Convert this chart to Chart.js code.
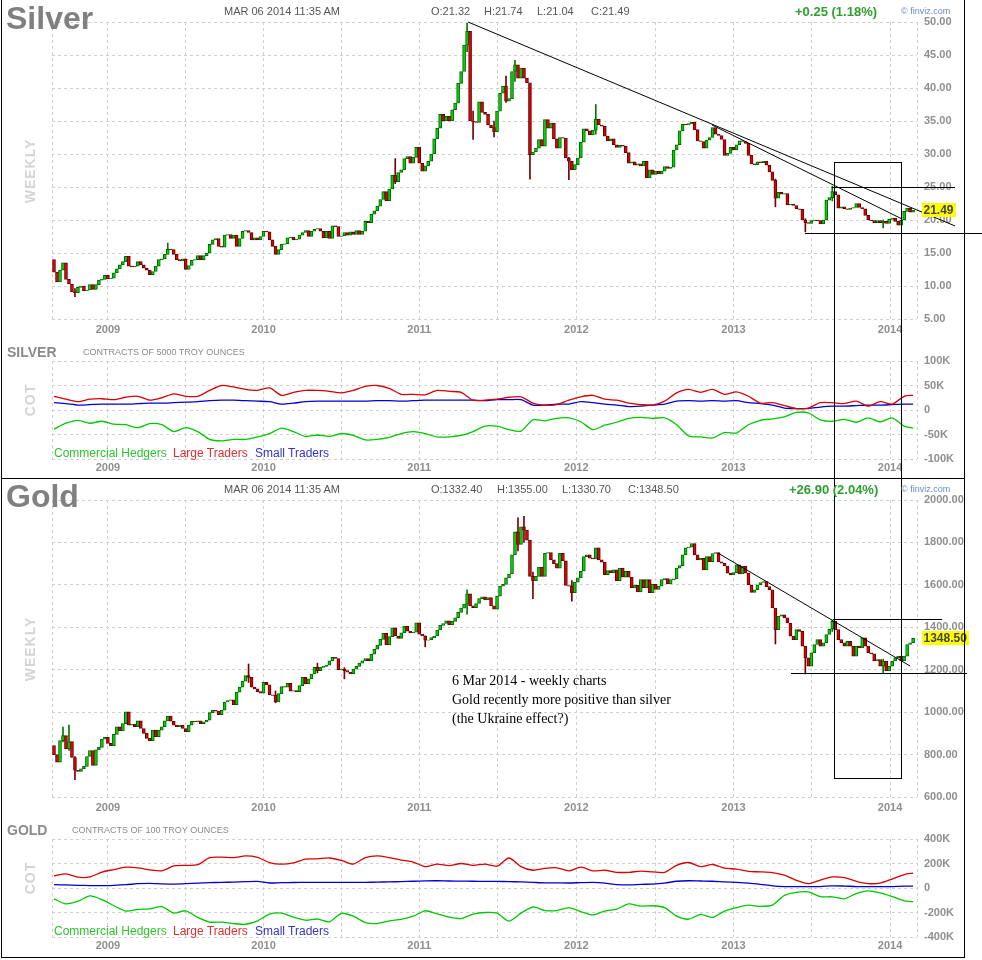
<!DOCTYPE html>
<html>
<head>
<meta charset="utf-8">
<script src="https://cdn.jsdelivr.net/npm/chart.js@4.4.1/dist/chart.umd.min.js"></script>
<style>
  body { margin: 0; background: #fff; }
  #wrap { position: relative; width: 982px; height: 960px; overflow: hidden; font-family: "Liberation Sans", Arial, sans-serif; }
  canvas { position: absolute; left: 0; }
  .t { position: absolute; white-space: nowrap; line-height: 13px; font-size: 11px; color: #555; }
  .big { position: absolute; font-weight: bold; font-size: 32px; line-height: 32px; color: #808080; }
  .chg { position: absolute; font-weight: bold; font-size: 13px; line-height: 15px; color: #2ea02e; white-space: nowrap; }
  .fv { position: absolute; font-size: 9px; line-height: 11px; color: #6a8cc0; white-space: nowrap; }
  .vert { position: absolute; width: 80px; height: 16px; line-height: 16px; text-align: center; font-weight: bold; font-size: 14px; letter-spacing: 1px; color: #d4d4d4; transform: rotate(-90deg); }
  .cot { position: absolute; font-weight: bold; font-size: 14px; line-height: 16px; color: #8a8a8a; }
  .sub { position: absolute; font-size: 9px; line-height: 11px; color: #8a8a8a; white-space: nowrap; }
  .lg { position: absolute; font-size: 12px; line-height: 14px; white-space: nowrap; }
  .rule { position: absolute; background: #000; }
  .note { position: absolute; left: 452px; top: 671px; font-family: "Liberation Serif", "Times New Roman", serif; font-size: 14px; line-height: 19px; color: #000; white-space: nowrap; }
</style>
</head>
<body>
<div id="wrap">
  <canvas id="silverMain" width="982" height="340" style="top:0"></canvas>
  <canvas id="silverCot" width="982" height="138" style="top:340px"></canvas>
  <canvas id="goldMain" width="982" height="340" style="top:478px"></canvas>
  <canvas id="goldCot" width="982" height="138" style="top:818px"></canvas>
  <canvas id="notes" width="982" height="960" style="top:0"></canvas>

  <div class="big" style="left:6px;top:2px">Silver</div>
  <div class="t" style="left:224px;top:5px">MAR 06 2014 11:35 AM</div>
  <div class="t" style="left:431px;top:5px">O:21.32</div>
  <div class="t" style="left:484px;top:5px">H:21.74</div>
  <div class="t" style="left:537px;top:5px">L:21.04</div>
  <div class="t" style="left:591px;top:5px">C:21.49</div>
  <div class="chg" style="left:795px;top:4px">+0.25 (1.18%)</div>
  <div class="fv" style="left:901px;top:6px">© finviz.com</div>
  <div class="vert" style="left:-10px;top:163px">WEEKLY</div>
  <div class="cot" style="left:7px;top:344px">SILVER</div>
  <div class="sub" style="left:83px;top:347px">CONTRACTS OF 5000 TROY OUNCES</div>
  <div class="vert" style="left:-10px;top:392px">COT</div>
  <div class="lg" style="left:54px;top:446px;color:#2ec42e">Commercial Hedgers</div>
  <div class="lg" style="left:173px;top:446px;color:#dd3030">Large Traders</div>
  <div class="lg" style="left:255px;top:446px;color:#3333cc">Small Traders</div>

  <div class="big" style="left:6px;top:480px">Gold</div>
  <div class="t" style="left:224px;top:483px">MAR 06 2014 11:35 AM</div>
  <div class="t" style="left:431px;top:483px">O:1332.40</div>
  <div class="t" style="left:497px;top:483px">H:1355.00</div>
  <div class="t" style="left:562px;top:483px">L:1330.70</div>
  <div class="t" style="left:628px;top:483px">C:1348.50</div>
  <div class="chg" style="left:789px;top:482px">+26.90 (2.04%)</div>
  <div class="fv" style="left:901px;top:484px">© finviz.com</div>
  <div class="vert" style="left:-10px;top:641px">WEEKLY</div>
  <div class="cot" style="left:7px;top:822px">GOLD</div>
  <div class="sub" style="left:72px;top:825px">CONTRACTS OF 100 TROY OUNCES</div>
  <div class="vert" style="left:-10px;top:870px">COT</div>
  <div class="lg" style="left:54px;top:924px;color:#2ec42e">Commercial Hedgers</div>
  <div class="lg" style="left:173px;top:924px;color:#dd3030">Large Traders</div>
  <div class="lg" style="left:255px;top:924px;color:#3333cc">Small Traders</div>

  <div class="note">6 Mar 2014 - weekly charts<br>Gold recently more positive than silver<br>(the Ukraine effect?)</div>

  <div class="rule" style="left:1px;top:0;width:1px;height:958px"></div>
  <div class="rule" style="left:964px;top:0;width:1px;height:958px"></div>
  <div class="rule" style="left:1px;top:478px;width:964px;height:1px"></div>
  <div class="rule" style="left:1px;top:957px;width:964px;height:1px"></div>
</div>

<script>
// weekly closes, first week = Sep 1 2008, last week = Mar 3 2014
const silverFirstOpen = 14.0;
const silverClose = [
  12.1, 10.6, 12.4, 13.5, 11.0, 10.3, 9.1, 9.0, 9.8, 10.0,
  9.3, 9.4, 10.2, 9.5, 10.2, 10.9, 11.0, 11.6, 11.1, 11.2,
  12.0, 12.6, 13.2, 13.7, 14.5, 13.0, 12.9, 13.0, 13.7, 13.2,
  12.7, 12.4, 11.7, 12.2, 13.0, 14.0, 14.1, 14.8, 15.6, 15.5,
  14.8, 14.0, 13.8, 14.1, 12.5, 13.1, 13.9, 14.0, 14.6, 14.0,
  14.6, 15.0, 16.3, 17.0, 17.2, 16.0, 15.9, 17.7, 17.8, 17.2,
  17.7, 16.0, 17.2, 18.3, 18.4, 18.1, 17.0, 17.3, 17.0, 17.5,
  18.3, 18.2, 17.0, 16.0, 14.8, 15.5, 16.3, 16.4, 17.3, 17.4,
  17.0, 17.1, 17.7, 18.1, 18.4, 17.5, 18.3, 18.6, 18.7, 18.3,
  17.3, 18.3, 17.2, 19.1, 19.0, 17.5, 17.6, 18.1, 17.7, 18.2,
  17.8, 18.4, 17.8, 18.3, 19.8, 19.6, 20.9, 21.4, 22.1, 23.1,
  24.3, 22.9, 24.7, 26.8, 25.8, 27.2, 27.6, 29.3, 29.6, 28.6,
  29.5, 31.0, 28.6, 27.4, 28.2, 28.9, 30.0, 32.3, 33.9, 36.0,
  35.0, 35.7, 35.0, 36.7, 37.7, 40.7, 42.5, 46.5, 48.6, 35.0,
  34.9, 34.8, 37.9, 36.3, 36.0, 34.4, 34.0, 33.4, 36.5, 39.2,
  40.3, 38.0, 38.4, 42.5, 43.5, 41.5, 43.0, 41.5, 40.8, 29.9,
  30.3, 30.9, 32.2, 31.2, 35.2, 33.9, 34.7, 32.3, 30.9, 32.5,
  32.4, 29.4, 28.9, 27.6, 28.4, 29.4, 31.8, 33.8, 33.5, 32.9,
  33.6, 35.3, 34.4, 34.2, 32.7, 32.0, 32.3, 31.4, 31.0, 31.3,
  31.2, 30.2, 28.6, 28.8, 28.3, 28.5, 28.2, 28.9, 26.4, 27.6,
  26.9, 27.4, 27.0, 27.4, 28.1, 27.8, 28.0, 30.6, 31.4, 33.5,
  34.5, 34.4, 34.6, 34.8, 33.7, 32.0, 31.9, 30.9, 32.1, 32.5,
  34.0, 33.0, 32.8, 32.2, 29.8, 30.1, 31.0, 30.6, 31.4, 32.0,
  31.9, 31.6, 29.8, 28.5, 28.4, 28.8, 28.7, 28.9, 28.3, 27.3,
  26.0, 23.3, 24.2, 23.9, 24.0, 22.3, 22.4, 22.2, 21.7, 21.6,
  20.0, 19.6, 19.5, 19.9, 20.0, 19.9, 19.4, 20.0, 23.0, 23.4,
  24.3, 23.8, 21.8, 22.0, 21.7, 21.6, 21.8, 21.9, 22.5, 21.9,
  21.7, 20.7, 20.0, 19.9, 19.6, 19.9, 19.6, 19.8, 19.5, 20.1,
  20.3, 19.8, 19.2, 20.0, 21.3, 21.8, 21.2, 21.49
];
// [week, low, high] for the longer visible wicks
const silverWicks = [
  [7, 8.4, 9.6], [38, 14.9, 16.5], [114, 25.5, 29.3], [138, 45.5, 49.8], [140, 32.2, 36.5],
  [147, 32.6, 35.0], [151, 37.8, 41.8], [154, 41.0, 44.2], [159, 26.2, 40.5], [172, 26.1, 29.5],
  [181, 33.0, 37.5], [241, 22.0, 26.2], [251, 18.2, 20.2], [260, 22.9, 25.1], [277, 18.8, 20.0]
];

const goldFirstOpen = 842;
const goldClose = [
  800, 764, 866, 889, 827, 861, 786, 726, 721, 733,
  744, 791, 819, 749, 822, 834, 873, 881, 853, 842,
  895, 931, 911, 946, 1001, 939, 943, 931, 959, 923,
  900, 876, 864, 915, 884, 915, 931, 959, 981, 957,
  939, 931, 939, 923, 908, 939, 957, 954, 959, 946,
  954, 962, 998, 1009, 1005, 988, 1009, 1048, 1055, 1058,
  1035, 1094, 1118, 1146, 1172, 1164, 1118, 1110, 1097, 1090,
  1141, 1129, 1082, 1079, 1048, 1087, 1121, 1118, 1136, 1099,
  1102, 1097, 1125, 1164, 1133, 1157, 1180, 1211, 1196, 1211,
  1216, 1222, 1242, 1258, 1253, 1200, 1203, 1196, 1188, 1180,
  1203, 1216, 1231, 1242, 1253, 1242, 1273, 1297, 1315, 1343,
  1371, 1317, 1356, 1398, 1359, 1348, 1374, 1405, 1382, 1374,
  1377, 1421, 1367, 1359, 1339, 1340, 1351, 1359, 1387, 1409,
  1418, 1430, 1412, 1428, 1445, 1470, 1490, 1509, 1558, 1501,
  1493, 1512, 1535, 1544, 1529, 1540, 1501, 1485, 1547, 1594,
  1602, 1633, 1651, 1741, 1850, 1791, 1873, 1858, 1811, 1640,
  1620, 1640, 1684, 1640, 1749, 1752, 1718, 1700, 1679, 1749,
  1713, 1597, 1594, 1563, 1613, 1633, 1664, 1733, 1741, 1726,
  1722, 1775, 1718, 1707, 1648, 1667, 1656, 1671, 1620, 1679,
  1636, 1664, 1636, 1586, 1599, 1567, 1625, 1586, 1625, 1563,
  1602, 1578, 1594, 1625, 1630, 1605, 1625, 1628, 1679, 1691,
  1741, 1775, 1778, 1795, 1741, 1717, 1725, 1670, 1733, 1709,
  1748, 1752, 1709, 1702, 1689, 1655, 1647, 1658, 1694, 1652,
  1689, 1655, 1600, 1564, 1577, 1600, 1611, 1616, 1592, 1577,
  1491, 1389, 1452, 1459, 1444, 1420, 1358, 1342, 1389, 1381,
  1311, 1256, 1217, 1280, 1319, 1342, 1311, 1327, 1366, 1392,
  1428, 1389, 1342, 1327, 1311, 1334, 1311, 1264, 1311, 1303,
  1350, 1311, 1280, 1275, 1241, 1248, 1217, 1241, 1194, 1217,
  1241, 1256, 1264, 1241, 1264, 1319, 1327, 1348.5
];
const goldWicks = [
  [3, 860, 930], [5, 820, 939], [7, 682, 790], [65, 1140, 1227], [74, 1044, 1100],
  [88, 1185, 1231], [97, 1157, 1210], [124, 1308, 1360], [138, 1462, 1577], [155, 1760, 1916],
  [157, 1800, 1923], [160, 1535, 1660], [173, 1523, 1620], [241, 1321, 1480], [251, 1180, 1280],
  [260, 1380, 1434], [277, 1182, 1250]
];

// COT net positions in thousands of contracts, one value every 4 weeks
const cotStep = 4;
const silverCommercial = [
  -39, -27, -21, -27, -23, -29, -30, -36, -28, -30, -44, -36, -44, -60, -63, -60, -60, -55, -48, -37,
  -44, -54, -51, -54, -48, -52, -61, -60, -56, -48, -44, -48, -55, -55, -52, -44, -33, -33, -40, -43,
  -20, -22, -17, -16, -24, -40, -31, -25, -17, -15, -17, -16, -30, -53, -55, -57, -46, -47, -30, -21,
  -18, -14, -5, -6, -20, -23, -19, -25, -16, -24, -16, -33, -37
];
const silverLarge = [
  28, 22, 17, 22, 23, 21, 26, 28, 20, 25, 33, 28, 28, 40, 50, 47, 42, 40, 45, 30,
  36, 40, 40, 38, 35, 40, 48, 50, 44, 32, 32, 31, 40, 38, 36, 20, 20, 22, 26, 27,
  14, 10, 11, 20, 27, 30, 22, 20, 14, 11, 10, 18, 35, 42, 36, 42, 32, 37, 28, 14,
  15, 9, 3, 4, 15, 15, 13, 18, 8, 17, 12, 28, 30
];
const silverSmall = [
  15, 13, 10, 11, 12, 12, 12, 13, 14, 14, 15, 16, 17, 19, 20, 20, 19, 18, 17, 12,
  14, 17, 18, 18, 18, 18, 18, 19, 19, 18, 19, 20, 20, 20, 20, 20, 19, 21, 21, 21,
  10, 10, 12, 12, 17, 15, 12, 10, 7, 8, 10, 12, 18, 19, 18, 19, 18, 19, 15, 13,
  10, 4, 3, 3, 6, 8, 8, 9, 10, 10, 11, 12, 12
];
const goldCommercial = [
  -89, -130, -108, -65, -95, -145, -188, -175, -170, -152, -205, -186, -240, -278, -278, -290, -296, -268, -213, -205,
  -238, -263, -253, -276, -207, -230, -282, -290, -268, -256, -230, -186, -211, -238, -250, -213, -200, -205, -270, -205,
  -155, -184, -184, -160, -192, -220, -188, -172, -130, -148, -145, -160, -230, -255, -215, -240, -188, -160, -140, -150,
  -140, -60, -35, -32, -70, -72, -88, -45, -23, -40, -70, -105, -112
];
const goldLarge = [
  100, 115, 88, 90, 130, 150, 170, 165, 148, 140, 180, 185, 190, 248, 252, 248, 262, 250, 208, 195,
  205, 236, 238, 245, 225, 195, 248, 262, 248, 228, 212, 175, 195, 182, 200, 185, 195, 178, 245, 175,
  145, 160, 165, 140, 170, 140, 145, 128, 128, 138, 132, 128, 185, 208, 175, 192, 162, 154, 135, 132,
  126, 105, 62, 35, 65, 90, 85, 55, 36, 40, 73, 110, 122
];
const goldSmall = [
  27, 25, 22, 20, 19, 22, 27, 35, 38, 34, 32, 35, 40, 44, 46, 48, 52, 54, 41, 44,
  45, 46, 46, 46, 46, 46, 46, 48, 50, 52, 55, 58, 59, 57, 56, 55, 54, 54, 52, 50,
  46, 42, 42, 41, 44, 46, 40, 28, 25, 30, 32, 40, 55, 59, 57, 55, 50, 46, 40, 30,
  18, 11, 11, 11, 12, 18, 16, 12, 11, 11, 12, 15, 16
];

// axis ticks (week numbers of the half-year grid lines, year labels)
const gridWeeks = [18, 44, 70, 96, 122, 148, 174.5, 201, 227, 253, 279.3];
const yearWeeks = [18, 70, 122, 174.5, 227, 279.3];
const yearLabels = ['2009', '2010', '2011', '2012', '2013', '2014'];
const silverPriceTicks = [5, 10, 15, 20, 25, 30, 35, 40, 45, 50];
const goldPriceTicks = [600, 800, 1000, 1200, 1400, 1600, 1800, 2000];
const silverCotTicks = [-100, -50, 0, 50, 100];
const goldCotTicks = [-400, -200, 0, 200, 400];

// hand-drawn notes, in [week, price] terms
const silverTrends = [[138.3, 50.0, 301, 19.1], [219.8, 34.4, 283.3, 20.15]];
const silverLevels = [[259.8, 301, 25.0], [250.9, 312, 18.03]];
const goldTrends = [[221.8, 1750, 286, 1217.5]];
const goldLevels = [[260.3, 296.7, 1439], [246.2, 305, 1184.5]];
const boxWeeks = [260.6, 283];
const boxSilverTop = 28.8;
const boxGoldBottom = 689.5;

const FONT = '"Liberation Sans", Arial, sans-serif';
const GRID = '#d0d0d0';
const LABEL = '#8f8f8f';
const labelFont = { family: FONT, size: 11, weight: 'bold' };

function xScale(h, pad) {
  return {
    type: 'linear', position: 'bottom', min: -0.67, max: 288.3, offset: false,
    afterBuildTicks: s => { s.ticks = [s.min, ...gridWeeks, s.max].map(v => ({ value: v })); },
    afterFit: s => { s.height = h; },
    grid: { color: GRID, drawTicks: false, offset: false },
    border: { display: false, dash: [3, 3] },
    ticks: {
      autoSkip: false, maxRotation: 0, padding: pad, color: LABEL, font: labelFont,
      callback: v => { const k = yearWeeks.indexOf(v); return k < 0 ? '' : yearLabels[k]; }
    }
  };
}

function yScale(ticks, fmt) {
  return {
    type: 'linear', position: 'right', min: ticks[0], max: ticks[ticks.length - 1],
    afterBuildTicks: s => { s.ticks = ticks.map(v => ({ value: v })); },
    afterFit: s => { s.width = 65; },
    grid: { color: GRID, drawTicks: false },
    border: { display: false, dash: [3, 3] },
    ticks: { autoSkip: false, padding: 7, color: LABEL, font: labelFont, callback: fmt }
  };
}

const base = {
  responsive: false, animation: false, events: [],
  plugins: { legend: { display: false }, tooltip: { enabled: false } }
};

function priceChart(id, firstOpen, closes, wicks, ticks) {
  const opens = closes.map((c, i) => i ? closes[i - 1] : firstOpen);
  const up = closes.map((c, i) => c >= opens[i]);
  return new Chart(document.getElementById(id), {
    type: 'bar',
    data: {
      datasets: [
        {
          data: wicks.map(w => ({ x: w[0], y: [w[1], w[2]] })),
          backgroundColor: wicks.map(w => up[w[0]] ? '#007a00' : '#7a0000'),
          barThickness: 1, grouped: false, order: 2
        },
        {
          data: closes.map((c, i) => ({ x: i, y: [opens[i], c] })),
          backgroundColor: up.map(u => u ? '#00d400' : '#e00000'),
          borderColor: up.map(u => u ? '#006400' : '#640000'),
          borderWidth: 1, borderSkipped: false, barThickness: 3, grouped: false, order: 1
        }
      ]
    },
    options: Object.assign({}, base, {
      layout: { padding: { left: 52, top: 22, right: 0, bottom: 0 } },
      scales: { x: xScale(21, 4), y: yScale(ticks, v => v.toFixed(2)) }
    })
  });
}

function cotChart(id, commercial, large, small, ticks) {
  const pts = arr => arr.map((v, k) => ({ x: Math.min(k * cotStep, closesLen - 1), y: v }));
  const line = (arr, color) => ({
    data: pts(arr), borderColor: color, borderWidth: 1.3, pointRadius: 0, tension: 0.25, fill: false
  });
  return new Chart(document.getElementById(id), {
    type: 'line',
    data: { datasets: [line(commercial, '#00c800'), line(large, '#d80000'), line(small, '#0000d0')] },
    options: Object.assign({}, base, {
      layout: { padding: { left: 52, top: 21, right: 0, bottom: 0 } },
      scales: { x: xScale(19, 2), y: yScale(ticks, v => v === 0 ? '0' : v + 'K') }
    })
  });
}

const closesLen = silverClose.length;
const sMain = priceChart('silverMain', silverFirstOpen, silverClose, silverWicks, silverPriceTicks);
const sCot = cotChart('silverCot', silverCommercial, silverLarge, silverSmall, silverCotTicks);
const gMain = priceChart('goldMain', goldFirstOpen, goldClose, goldWicks, goldPriceTicks);
const gCot = cotChart('goldCot', goldCommercial, goldLarge, goldSmall, goldCotTicks);

// notes layer: trend lines, levels, box and last-price tags
(function drawNotes() {
  const ctx = document.getElementById('notes').getContext('2d');
  const at = (c, top, w, v) => [c.scales.x.getPixelForValue(w), top + c.scales.y.getPixelForValue(v)];
  const seg = (a, b) => { ctx.beginPath(); ctx.moveTo(a[0], a[1]); ctx.lineTo(b[0], b[1]); ctx.stroke(); };
  const flat = (c, top, l) => {
    const y = Math.round(top + c.scales.y.getPixelForValue(l[2])) + 0.5;
    seg([c.scales.x.getPixelForValue(l[0]), y], [c.scales.x.getPixelForValue(l[1]), y]);
  };
  ctx.strokeStyle = '#000';
  ctx.lineWidth = 1;
  silverTrends.forEach(t => seg(at(sMain, 0, t[0], t[1]), at(sMain, 0, t[2], t[3])));
  silverLevels.forEach(l => flat(sMain, 0, l));
  goldTrends.forEach(t => seg(at(gMain, 478, t[0], t[1]), at(gMain, 478, t[2], t[3])));
  goldLevels.forEach(l => flat(gMain, 478, l));
  const tl = at(sMain, 0, boxWeeks[0], boxSilverTop);
  const br = at(gMain, 478, boxWeeks[1], boxGoldBottom);
  ctx.strokeRect(Math.round(tl[0]) + 0.5, Math.round(tl[1]) + 0.5, Math.round(br[0] - tl[0]), Math.round(br[1] - tl[1]));

  const tag = (c, top, value) => {
    const text = value.toFixed(2);
    const y = Math.round(top + c.scales.y.getPixelForValue(value));
    const x = c.chartArea.right + 5;
    ctx.font = 'bold 12px ' + FONT;
    const w = Math.ceil(ctx.measureText(text).width) + 3;
    ctx.fillStyle = '#ffff00';
    ctx.fillRect(x, y - 7, w, 14);
    ctx.fillStyle = '#444';
    ctx.textBaseline = 'middle';
    ctx.fillText(text, x + 1.5, y + 0.5);
  };
  tag(sMain, 0, silverClose[silverClose.length - 1]);
  tag(gMain, 478, goldClose[goldClose.length - 1]);
})();
</script>
</body>
</html>
